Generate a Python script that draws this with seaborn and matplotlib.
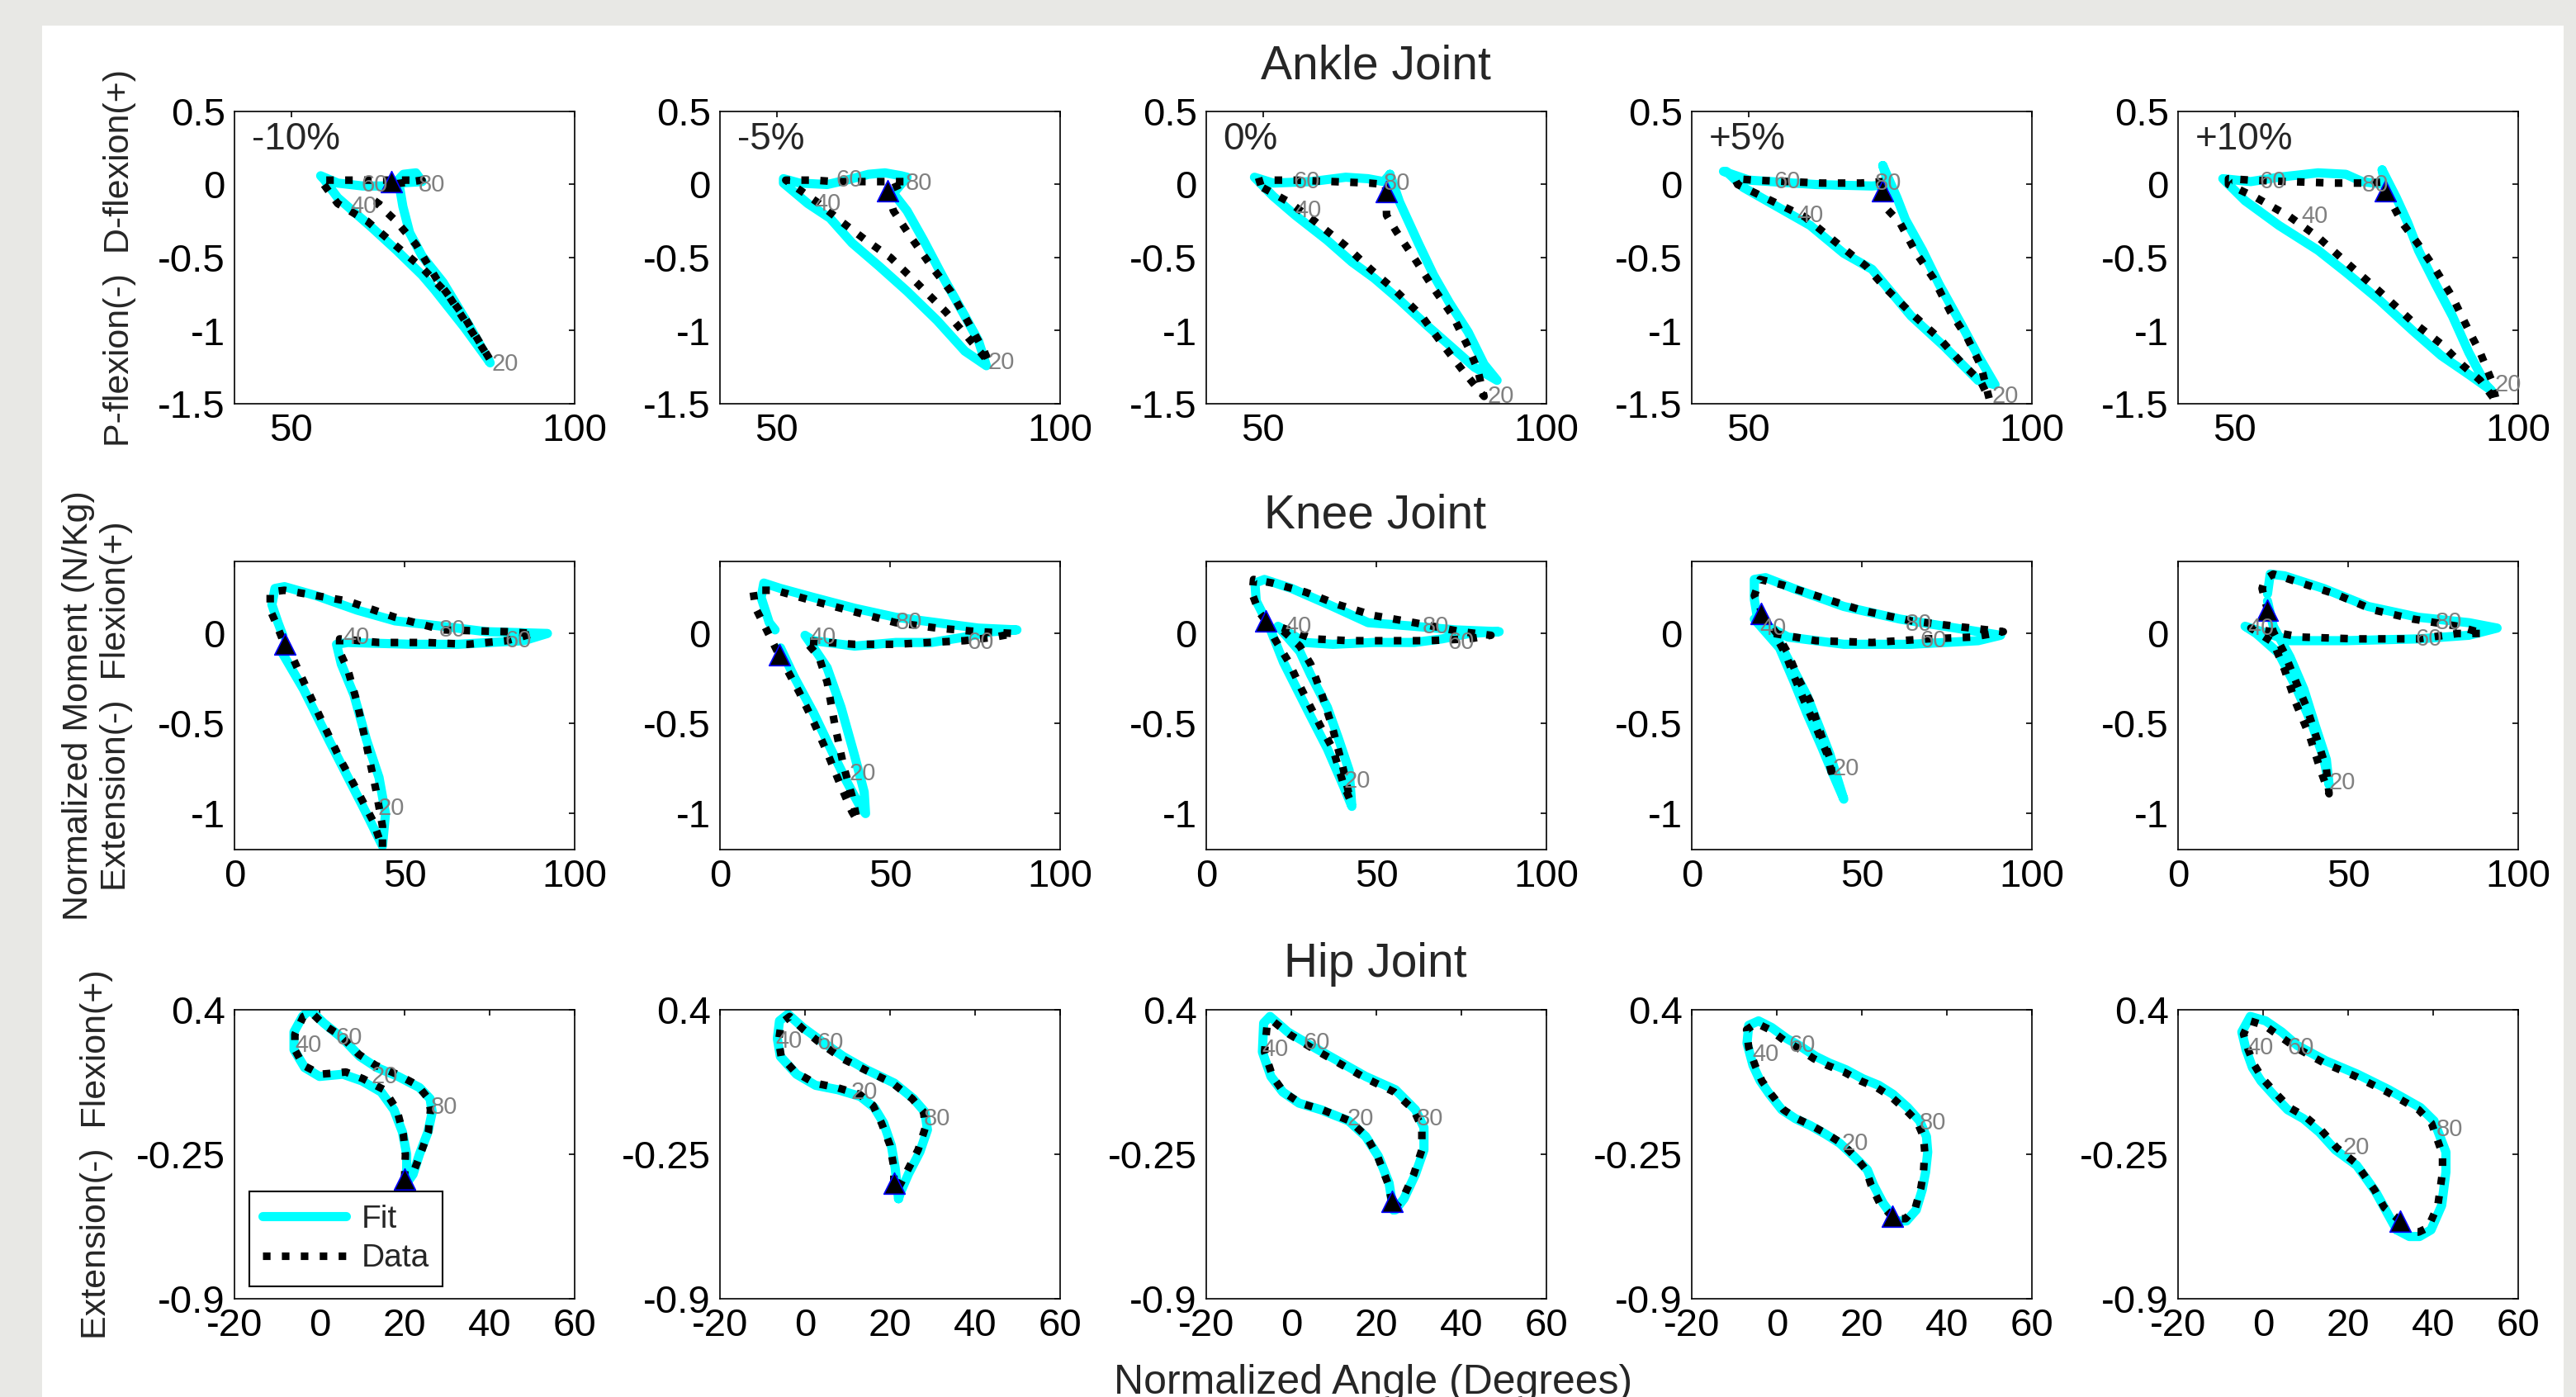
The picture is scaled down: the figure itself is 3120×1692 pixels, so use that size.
import matplotlib
matplotlib.use("Agg")
import matplotlib.pyplot as plt
from matplotlib.patches import Rectangle
import seaborn as sns

# conditions shown in the five columns
conditions = ['-10%', '-5%', '0%', '+5%', '+10%']

# ---------------- Ankle joint (x = angle, y = moment) ----------------
ankle_data_x = [
    [67.6, 65.2, 68.5, 72.0, 75.7, 80.6, 85.1, 77.6, 73.1, 68.2, 63.4, 58.2, 55.2, 58.5, 61.9, 65.6, 69.0, 71.2, 73.1, 67.6],
    [69.5, 70.6, 73.5, 77.3, 80.7, 83.6, 86.6, 87.5, 83.6, 79.8, 74.9, 70.1, 65.7, 61.3, 57.5, 51.6, 56.5, 60.4, 64.3, 68.6, 73.0, 69.5],
    [71.7, 71.8, 73.5, 76.8, 80.1, 83.5, 86.3, 87.9, 89.0, 87.3, 85.2, 81.8, 78.0, 73.5, 69.0, 64.6, 59.1, 54.6, 48.5, 50.2, 55.7, 62.4, 68.8, 71.6, 71.7],
    [73.7, 74.5, 76.7, 79.6, 82.6, 85.6, 88.6, 91.0, 92.5, 91.0, 87.6, 83.6, 78.7, 74.2, 70.8, 65.9, 59.9, 54.0, 48.1, 47.6, 51.0, 57.0, 62.9, 69.8, 73.7],
    [76.5, 78.0, 79.5, 82.4, 85.4, 88.4, 91.3, 93.3, 95.3, 96.2, 93.3, 90.3, 86.4, 81.4, 75.5, 69.6, 64.7, 59.7, 53.8, 48.9, 48.9, 52.8, 59.7, 67.6, 73.5, 77.0],
]
ankle_data_y = [
    [0.00, -0.13, -0.25, -0.41, -0.65, -0.91, -1.20, -0.75, -0.57, -0.41, -0.25, -0.13, 0.03, 0.03, 0.03, 0.03, 0.03, 0.03, 0.03, 0.00],
    [-0.04, -0.18, -0.35, -0.56, -0.73, -0.93, -1.14, -1.22, -1.04, -0.87, -0.68, -0.50, -0.38, -0.25, -0.13, 0.03, 0.03, 0.02, 0.02, 0.02, 0.02, -0.04],
    [-0.05, -0.21, -0.32, -0.51, -0.71, -0.90, -1.12, -1.27, -1.45, -1.37, -1.27, -1.10, -0.90, -0.73, -0.58, -0.42, -0.25, -0.12, 0.01, 0.03, 0.03, 0.02, 0.01, 0.00, -0.05],
    [-0.05, -0.17, -0.26, -0.47, -0.64, -0.87, -1.05, -1.24, -1.47, -1.35, -1.22, -1.05, -0.88, -0.71, -0.56, -0.41, -0.22, -0.11, 0.00, 0.04, 0.03, 0.02, 0.01, 0.01, 0.02],
    [-0.05, -0.15, -0.26, -0.41, -0.58, -0.77, -1.00, -1.15, -1.34, -1.49, -1.34, -1.24, -1.09, -0.94, -0.73, -0.53, -0.36, -0.22, -0.09, 0.00, 0.04, 0.03, 0.02, 0.01, 0.01, 0.02],
]
ankle_fit_x = [
    [69.0, 69.7, 70.9, 73.1, 76.8, 81.3, 85.1, 80.6, 75.3, 73.1, 68.6, 64.1, 58.2, 55.9, 55.2, 58.2, 62.6, 67.9, 69.8, 72.0, 73.1, 69.0],
    [70.6, 73.0, 75.9, 79.3, 83.2, 85.6, 87.0, 83.2, 78.3, 73.0, 68.1, 63.3, 59.4, 55.5, 51.2, 51.2, 54.0, 58.9, 62.3, 66.2, 69.1, 72.0, 73.0, 70.6],
    [72.4, 74.1, 77.4, 80.1, 82.9, 86.2, 89.0, 91.3, 87.3, 83.5, 79.1, 74.1, 69.6, 65.7, 61.3, 55.7, 51.8, 48.5, 51.8, 58.5, 64.6, 68.5, 71.3, 72.4],
    [73.7, 76.2, 77.7, 80.7, 83.6, 87.6, 90.5, 93.5, 90.5, 84.6, 78.7, 71.8, 66.8, 60.9, 55.0, 49.1, 46.1, 45.6, 50.1, 61.9, 71.8, 74.7, 73.7],
    [76.0, 78.5, 80.5, 82.4, 85.4, 88.4, 91.3, 94.3, 95.3, 91.3, 86.4, 81.4, 75.5, 69.6, 64.7, 57.8, 51.8, 47.9, 52.8, 57.8, 64.7, 69.6, 72.5, 76.5, 76.0],
]
ankle_fit_y = [
    [0.01, -0.15, -0.33, -0.49, -0.67, -0.96, -1.22, -0.98, -0.72, -0.62, -0.45, -0.29, -0.09, 0.03, 0.06, 0.01, -0.01, -0.01, 0.07, 0.08, 0.02, 0.01],
    [-0.06, -0.18, -0.38, -0.63, -0.90, -1.07, -1.24, -1.14, -0.93, -0.73, -0.56, -0.40, -0.23, -0.13, 0.01, 0.04, 0.01, 0.00, 0.03, 0.07, 0.08, 0.06, 0.05, -0.06],
    [0.07, -0.12, -0.40, -0.62, -0.81, -1.01, -1.23, -1.34, -1.25, -1.12, -0.97, -0.79, -0.64, -0.53, -0.38, -0.21, -0.08, 0.05, 0.01, 0.02, 0.05, 0.04, 0.02, 0.07],
    [0.13, -0.09, -0.24, -0.45, -0.68, -0.96, -1.17, -1.37, -1.34, -1.11, -0.90, -0.58, -0.47, -0.28, -0.15, -0.02, 0.09, 0.09, 0.03, 0.00, -0.01, 0.00, 0.13],
    [0.10, -0.09, -0.26, -0.45, -0.68, -0.90, -1.15, -1.37, -1.41, -1.30, -1.17, -1.00, -0.79, -0.60, -0.45, -0.28, -0.11, 0.04, 0.02, 0.05, 0.08, 0.07, 0.02, 0.00, 0.10],
]
ankle_tri_x = [67.6, 69.5, 71.7, 73.7, 76.5]
ankle_tri_y = [0.02, -0.04, -0.05, -0.04, -0.04]
# labels 20, 40, 60, 80 (% of cycle)
ankle_lab_x = [[85.4, 60.4, 62.3, 72.4], [87.3, 56.7, 60.4, 72.7], [89.6, 55.7, 55.4, 71.3],
               [93.0, 58.5, 54.5, 72.3], [95.8, 61.7, 54.3, 72.4]]
ankle_lab_y = [[-1.23, -0.15, 0.00, 0.00], [-1.22, -0.13, 0.03, 0.01], [-1.45, -0.18, 0.02, 0.01],
               [-1.45, -0.21, 0.02, 0.01], [-1.37, -0.22, 0.02, 0.00]]

# ---------------- Knee joint ----------------
knee_data_x = [
    [14.7, 17.5, 22.1, 26.8, 31.4, 36.0, 40.7, 43.5, 43.5, 41.6, 38.8, 36.0, 33.3, 30.9, 30.9, 42.5, 56.5, 68.6, 80.0, 88.0, 80.0, 61.1, 47.2, 33.3, 24.0, 14.7, 10.5, 10.5, 11.9, 14.7],
    [17.4, 19.4, 23.4, 27.5, 31.5, 35.6, 38.8, 40.4, 38.8, 36.4, 33.9, 31.5, 29.1, 25.0, 31.5, 39.6, 51.7, 61.4, 71.9, 80.8, 86.5, 75.9, 63.8, 51.7, 39.6, 27.5, 16.2, 9.7, 10.5, 12.9, 17.4],
    [17.5, 20.1, 24.3, 27.5, 30.7, 34.0, 37.2, 40.4, 42.4, 40.0, 37.2, 34.0, 30.7, 27.5, 21.1, 31.5, 42.0, 53.2, 65.3, 77.3, 83.7, 74.9, 61.2, 49.2, 38.8, 29.1, 19.5, 13.9, 13.5, 15.5, 17.5],
    [20.4, 25.0, 28.3, 31.6, 34.9, 38.2, 40.6, 41.5, 39.8, 36.5, 33.2, 29.9, 27.5, 24.2, 36.5, 53.0, 69.4, 82.6, 91.6, 77.6, 64.5, 49.7, 38.2, 26.6, 20.1, 18.4, 20.1, 20.4],
    [26.3, 28.0, 31.3, 34.5, 37.8, 41.1, 43.6, 44.4, 41.9, 38.7, 34.5, 31.3, 28.0, 21.4, 36.2, 52.6, 70.7, 82.3, 89.7, 82.3, 69.1, 57.6, 46.1, 34.5, 28.0, 25.5, 24.7, 26.3],
]
knee_data_y = [
    [-0.06, -0.15, -0.34, -0.53, -0.71, -0.87, -1.04, -1.19, -1.07, -0.87, -0.62, -0.38, -0.20, -0.10, -0.03, -0.05, -0.05, -0.06, -0.04, 0.00, 0.01, 0.02, 0.09, 0.18, 0.21, 0.24, 0.23, 0.13, 0.07, -0.06],
    [-0.12, -0.19, -0.33, -0.49, -0.66, -0.85, -0.99, -1.04, -0.90, -0.74, -0.52, -0.27, -0.13, -0.04, -0.05, -0.06, -0.06, -0.05, -0.04, -0.02, 0.00, 0.01, 0.03, 0.06, 0.12, 0.18, 0.24, 0.24, 0.14, 0.05, -0.12],
    [0.07, -0.03, -0.16, -0.29, -0.41, -0.53, -0.64, -0.84, -0.93, -0.73, -0.53, -0.34, -0.17, -0.07, 0.04, -0.03, -0.04, -0.04, -0.04, -0.03, -0.01, 0.01, 0.06, 0.10, 0.16, 0.23, 0.28, 0.30, 0.22, 0.12, 0.07],
    [0.11, 0.00, -0.11, -0.26, -0.38, -0.57, -0.69, -0.81, -0.67, -0.52, -0.38, -0.23, -0.11, 0.00, -0.04, -0.05, -0.03, -0.02, 0.01, 0.04, 0.07, 0.13, 0.20, 0.27, 0.30, 0.21, 0.15, 0.11],
    [0.13, 0.01, -0.11, -0.26, -0.41, -0.60, -0.75, -0.89, -0.76, -0.57, -0.38, -0.20, -0.05, 0.03, -0.02, -0.03, -0.03, 0.00, 0.00, 0.04, 0.08, 0.13, 0.22, 0.29, 0.33, 0.30, 0.25, 0.13],
]
knee_fit_x = [
    [13.8, 20.3, 27.7, 34.2, 38.8, 43.5, 44.4, 42.5, 38.8, 35.1, 31.4, 30.0, 33.3, 51.8, 65.8, 75.0, 85.0, 92.0, 74.0, 61.1, 47.2, 36.0, 24.0, 14.7, 11.9, 11.0, 12.8, 14.2],
    [17.8, 21.8, 27.5, 32.3, 37.2, 41.2, 42.8, 42.4, 39.6, 35.6, 31.5, 28.3, 25.0, 27.5, 39.6, 51.7, 62.2, 71.9, 80.0, 87.3, 75.9, 63.8, 51.7, 39.6, 27.5, 17.8, 12.9, 12.1, 14.5, 16.2],
    [18.7, 22.7, 26.7, 30.7, 35.6, 40.4, 42.8, 42.0, 38.8, 35.6, 30.7, 27.5, 21.1, 29.1, 37.2, 49.2, 61.2, 69.3, 77.3, 86.1, 73.3, 61.2, 47.6, 37.2, 25.1, 17.1, 14.3, 14.7, 17.1],
    [20.1, 25.8, 29.9, 34.0, 37.3, 40.6, 44.7, 41.5, 38.2, 34.0, 29.9, 25.8, 18.4, 28.3, 44.7, 64.5, 84.2, 90.8, 77.6, 61.2, 44.7, 29.9, 21.7, 18.4, 18.4, 19.2],
    [26.3, 28.0, 32.9, 37.0, 40.3, 43.6, 44.4, 42.8, 39.5, 34.5, 29.6, 23.0, 19.7, 32.9, 49.4, 70.7, 85.5, 93.8, 85.5, 70.7, 55.9, 42.8, 31.3, 27.1, 26.3],
]
knee_fit_y = [
    [-0.10, -0.31, -0.59, -0.83, -1.00, -1.18, -1.00, -0.80, -0.59, -0.34, -0.17, -0.06, -0.05, -0.06, -0.06, -0.05, -0.04, 0.00, 0.01, 0.04, 0.07, 0.13, 0.21, 0.26, 0.25, 0.16, 0.06, -0.01],
    [-0.08, -0.24, -0.44, -0.63, -0.82, -0.96, -1.00, -0.88, -0.68, -0.41, -0.19, -0.10, -0.01, -0.04, -0.07, -0.05, -0.05, -0.02, 0.01, 0.02, 0.03, 0.06, 0.09, 0.14, 0.20, 0.25, 0.28, 0.20, 0.06, 0.02],
    [0.03, -0.16, -0.31, -0.46, -0.64, -0.85, -0.96, -0.76, -0.58, -0.41, -0.23, -0.10, 0.04, -0.05, -0.06, -0.05, -0.05, -0.03, 0.00, 0.01, 0.02, 0.04, 0.06, 0.15, 0.25, 0.30, 0.28, 0.18, 0.09],
    [0.09, -0.05, -0.20, -0.35, -0.51, -0.67, -0.92, -0.78, -0.63, -0.45, -0.26, -0.08, 0.08, -0.02, -0.06, -0.06, -0.04, -0.01, 0.03, 0.08, 0.15, 0.25, 0.31, 0.30, 0.19, 0.10],
    [0.18, 0.04, -0.13, -0.31, -0.51, -0.70, -0.84, -0.69, -0.51, -0.29, -0.11, 0.00, 0.04, -0.04, -0.04, -0.03, -0.01, 0.03, 0.06, 0.09, 0.15, 0.25, 0.32, 0.33, 0.22],
]
knee_tri_x = [14.7, 17.4, 17.5, 20.4, 26.3]
knee_tri_y = [-0.06, -0.12, 0.07, 0.11, 0.13]
knee_lab_x = [[42.1, 31.9, 79.4, 60.2], [38.0, 26.3, 72.7, 51.7], [40.4, 23.1, 70.9, 63.6],
              [41.5, 20.1, 67.0, 62.8], [44.4, 20.6, 69.9, 75.7]]
knee_lab_y = [[-0.97, -0.02, -0.04, 0.02], [-0.78, -0.02, -0.05, 0.06], [-0.82, 0.04, -0.05, 0.04],
              [-0.75, 0.03, -0.04, 0.05], [-0.83, 0.03, -0.03, 0.06]]

# ---------------- Hip joint ----------------
hip_data_x = [
    [20.0, 20.2, 19.7, 18.2, 15.2, 10.2, 6.2, 0.2, -3.8, -5.8, -5.8, -3.8, -1.8, 1.2, 5.2, 9.2, 13.2, 18.2, 23.1, 25.6, 26.1, 25.6, 24.1, 22.1, 20.0],
    [20.9, 20.9, 20.0, 18.0, 16.0, 12.8, 7.5, 2.3, -2.3, -5.6, -6.2, -5.6, -3.6, -0.3, 3.6, 8.8, 14.1, 20.6, 25.2, 27.9, 28.3, 26.6, 23.9, 22.0, 20.9],
    [23.6, 22.7, 20.3, 17.7, 13.8, 7.3, 2.1, -1.8, -4.4, -6.3, -5.7, -4.4, -0.5, 4.7, 11.2, 17.7, 24.2, 28.8, 30.7, 30.7, 28.8, 26.2, 24.2, 23.6],
    [27.1, 24.2, 22.2, 21.0, 18.4, 15.2, 11.9, 8.1, 4.8, 1.6, -1.3, -3.5, -5.1, -6.6, -7.1, -4.8, -1.6, 1.9, 4.8, 8.7, 11.9, 15.8, 19.7, 23.5, 26.8, 30.3, 32.9, 34.5, 34.8, 34.5, 33.9, 32.6, 30.3, 28.0],
    [32.3, 28.5, 26.2, 24.0, 21.8, 17.3, 13.6, 9.9, 6.2, 3.2, -0.1, -2.0, -3.5, -4.6, -3.1, 0.3, 4.0, 7.7, 14.4, 21.8, 29.2, 36.6, 39.6, 42.2, 42.2, 41.1, 38.8, 36.6, 34.4],
]
hip_data_y = [
    [-0.36, -0.25, -0.16, -0.05, 0.04, 0.09, 0.12, 0.11, 0.15, 0.22, 0.29, 0.37, 0.385, 0.33, 0.28, 0.20, 0.15, 0.11, 0.06, 0.00, -0.05, -0.15, -0.23, -0.33, -0.36],
    [-0.38, -0.31, -0.21, -0.11, -0.03, 0.02, 0.05, 0.07, 0.12, 0.19, 0.26, 0.34, 0.37, 0.31, 0.25, 0.18, 0.13, 0.07, 0.00, -0.06, -0.13, -0.23, -0.33, -0.40, -0.38],
    [-0.46, -0.38, -0.26, -0.17, -0.10, -0.05, -0.02, 0.03, 0.10, 0.21, 0.33, 0.35, 0.29, 0.23, 0.16, 0.09, 0.03, -0.05, -0.13, -0.23, -0.34, -0.45, -0.49, -0.46],
    [-0.53, -0.47, -0.39, -0.32, -0.26, -0.20, -0.16, -0.12, -0.09, -0.05, 0.02, 0.08, 0.15, 0.23, 0.31, 0.34, 0.31, 0.26, 0.23, 0.18, 0.15, 0.12, 0.08, 0.05, 0.01, -0.05, -0.10, -0.17, -0.24, -0.33, -0.40, -0.49, -0.54, -0.54],
    [-0.55, -0.49, -0.41, -0.35, -0.29, -0.22, -0.14, -0.08, -0.04, 0.02, 0.09, 0.15, 0.22, 0.29, 0.35, 0.33, 0.28, 0.23, 0.16, 0.10, 0.03, -0.05, -0.11, -0.25, -0.33, -0.48, -0.58, -0.60, -0.60],
]
hip_fit_x = [
    [20.5, 20.5, 19.5, 17.5, 14.5, 10.0, 5.5, 0.0, -3.5, -6.0, -6.0, -4.0, -2.3, 1.0, 5.5, 9.5, 13.5, 18.5, 23.5, 26.0, 26.5, 25.5, 23.5, 22.0, 20.5],
    [22.0, 21.2, 20.3, 18.5, 16.3, 13.0, 7.8, 2.5, -2.0, -5.8, -6.5, -6.0, -4.0, -0.5, 3.8, 9.0, 14.5, 21.0, 25.5, 28.2, 28.8, 27.0, 24.3, 22.5, 22.0],
    [24.0, 23.0, 20.5, 17.5, 13.5, 7.0, 1.8, -2.0, -4.8, -6.8, -6.5, -5.0, -0.8, 4.5, 11.0, 17.5, 24.5, 29.2, 31.2, 31.2, 29.2, 26.5, 24.5, 24.0],
    [28.0, 25.0, 22.8, 21.3, 18.2, 14.8, 11.5, 7.8, 4.4, 1.2, -1.7, -3.9, -5.6, -7.0, -6.6, -4.3, -1.2, 2.4, 5.2, 9.2, 12.4, 16.3, 20.2, 24.0, 27.3, 30.8, 33.6, 35.2, 35.5, 35.0, 34.2, 32.8, 30.5, 28.0],
    [31.4, 28.8, 26.5, 24.3, 22.0, 17.0, 13.2, 9.5, 5.8, 2.8, -0.5, -2.5, -4.0, -5.0, -3.0, 0.6, 4.4, 8.0, 14.8, 22.2, 29.6, 37.0, 40.2, 43.0, 43.0, 42.0, 39.5, 36.8, 34.4, 31.4],
]
hip_fit_y = [
    [-0.38, -0.25, -0.15, -0.05, 0.03, 0.08, 0.11, 0.10, 0.14, 0.22, 0.30, 0.37, 0.40, 0.34, 0.27, 0.19, 0.14, 0.10, 0.05, 0.00, -0.06, -0.15, -0.25, -0.34, -0.38],
    [-0.45, -0.31, -0.21, -0.11, -0.04, 0.01, 0.04, 0.06, 0.11, 0.19, 0.27, 0.35, 0.38, 0.32, 0.26, 0.19, 0.13, 0.07, 0.00, -0.06, -0.14, -0.24, -0.34, -0.42, -0.45],
    [-0.50, -0.38, -0.26, -0.17, -0.10, -0.05, -0.02, 0.03, 0.10, 0.21, 0.34, 0.37, 0.30, 0.24, 0.17, 0.10, 0.04, -0.05, -0.13, -0.23, -0.34, -0.45, -0.50, -0.50],
    [-0.55, -0.47, -0.39, -0.32, -0.26, -0.20, -0.16, -0.12, -0.09, -0.05, 0.02, 0.08, 0.15, 0.25, 0.33, 0.35, 0.32, 0.27, 0.24, 0.19, 0.16, 0.13, 0.09, 0.06, 0.02, -0.04, -0.10, -0.17, -0.24, -0.33, -0.41, -0.50, -0.55, -0.55],
    [-0.59, -0.50, -0.42, -0.36, -0.30, -0.23, -0.15, -0.09, -0.05, 0.01, 0.08, 0.14, 0.22, 0.30, 0.37, 0.35, 0.30, 0.24, 0.17, 0.11, 0.04, -0.04, -0.10, -0.24, -0.33, -0.48, -0.59, -0.62, -0.62, -0.59],
]
hip_tri_x = [20.0, 20.9, 23.6, 27.1, 32.3]
hip_tri_y = [-0.36, -0.38, -0.46, -0.53, -0.55]
hip_lab_x = [[12.2, -5.8, 3.7, 26.1], [10.8, -6.9, 2.9, 27.9], [13.2, -7.0, 2.8, 29.5],
             [15.2, -5.8, 2.9, 33.6], [18.8, -3.8, 5.8, 40.7]]
hip_lab_y = [[0.10, 0.24, 0.275, -0.04], [0.03, 0.26, 0.25, -0.09], [-0.09, 0.22, 0.25, -0.09],
             [-0.20, 0.20, 0.24, -0.11], [-0.22, 0.23, 0.23, -0.14]]

cycle_marks = ['20', '40', '60', '80']

# axis setup per joint
ankle_xticks = [50, 100]
ankle_yticks = [-1.5, -1, -0.5, 0, 0.5]
ankle_yticklabels = ['-1.5', '-1', '-0.5', '0', '0.5']
knee_xticks = [0, 50, 100]
knee_yticks = [-1, -0.5, 0]
knee_yticklabels = ['-1', '-0.5', '0']
hip_xticks = [-20, 0, 20, 40, 60]
hip_yticks = [-0.9, -0.25, 0.4]
hip_yticklabels = ['-0.9', '-0.25', '0.4']

sns.set_style("white")
plt.rcParams['font.family'] = ['Liberation Sans', 'DejaVu Sans']

W, H = 3120, 1692
fig = plt.figure(figsize=(W / 100, H / 100), dpi=100, facecolor='#e8e8e5')
fig.add_artist(Rectangle((51 / W, 0), (3105 - 51) / W, 1 - 31 / H, transform=fig.transFigure,
                         facecolor='white', edgecolor='none', zorder=-10))

col_left = [284, 872, 1461, 2049, 2638]
col_w = 412
row_box = [(135, 489), (680, 1029), (1223, 1573)]

joints = [
    (ankle_data_x, ankle_data_y, ankle_fit_x, ankle_fit_y, ankle_tri_x, ankle_tri_y, ankle_lab_x, ankle_lab_y,
     (40, 100), (-1.5, 0.5), ankle_xticks, ankle_yticks, ankle_yticklabels),
    (knee_data_x, knee_data_y, knee_fit_x, knee_fit_y, knee_tri_x, knee_tri_y, knee_lab_x, knee_lab_y,
     (0, 100), (-1.2, 0.4), knee_xticks, knee_yticks, knee_yticklabels),
    (hip_data_x, hip_data_y, hip_fit_x, hip_fit_y, hip_tri_x, hip_tri_y, hip_lab_x, hip_lab_y,
     (-20, 60), (-0.9, 0.4), hip_xticks, hip_yticks, hip_yticklabels),
]

dotted = (0, (1, 1.5))
legend_ax = None

for r, (dx, dy, fx, fy, tx, ty, lx, ly, xlim, ylim, xt, yt, ytl) in enumerate(joints):
    top, bot = row_box[r]
    for c in range(5):
        ax = fig.add_axes([col_left[c] / W, 1 - bot / H, col_w / W, (bot - top) / H])
        sns.lineplot(x=fx[c], y=fy[c], ax=ax, sort=False, estimator=None, color='#00ffff',
                     linewidth=8, zorder=2, legend=False)
        sns.lineplot(x=dx[c], y=dy[c], ax=ax, sort=False, estimator=None, color='black',
                     linewidth=6.6, linestyle=dotted, dash_capstyle='butt', zorder=3, legend=False)
        sns.scatterplot(x=[tx[c]], y=[ty[c]], ax=ax, marker='^', s=340, color='black',
                        edgecolor='blue', linewidth=1.2, zorder=5, legend=False)
        for k, mark in enumerate(cycle_marks):
            ax.text(lx[c][k], ly[c][k], mark, color='#808080', fontsize=21,
                    ha='left', va='center', zorder=6)
        ax.set_xlim(*xlim)
        ax.set_ylim(*ylim)
        ax.set_xticks(xt)
        ax.set_xticklabels([str(v) for v in xt])
        ax.set_yticks(yt)
        ax.set_yticklabels(ytl)
        ax.set_xlabel('')
        ax.set_ylabel('')
        ax.tick_params(direction='in', top=True, right=True, length=5, width=1.2,
                       labelsize=34, pad=8, colors='black')
        for sp in ax.spines.values():
            sp.set_visible(True)
            sp.set_color('black')
            sp.set_linewidth(1.2)
        if r == 0:
            ax.text(0.05, 0.965, conditions[c], transform=ax.transAxes, ha='left', va='top', fontsize=33)
        if r == 2 and c == 0:
            legend_ax = ax

leg = legend_ax.legend(handles=[legend_ax.lines[0], legend_ax.lines[1]], labels=['Fit', 'Data'],
                       loc='lower left', bbox_to_anchor=(0.044, 0.043), borderaxespad=0,
                       fontsize=28, frameon=True, fancybox=False, edgecolor='black', framealpha=1,
                       handlelength=2.6, borderpad=0.4, labelspacing=0.3, handletextpad=0.5)
leg.get_frame().set_linewidth(1.5)
leg.set_zorder(10)

cx = 1666 / W
fig.text(cx, 1 - 95 / H, 'Ankle Joint', ha='center', va='baseline', fontsize=41)
fig.text(cx, 1 - 640 / H, 'Knee Joint', ha='center', va='baseline', fontsize=41)
fig.text(cx, 1 - 1183 / H, 'Hip Joint', ha='center', va='baseline', fontsize=41)
fig.text(0.533, 1 - 1688 / H, 'Normalized Angle (Degrees)', ha='center', va='baseline', fontsize=36)

fig.text(145 / W, 1 - 312 / H, 'P-flexion(-)  D-flexion(+)', rotation=90, ha='center', va='center', fontsize=31)
fig.text(118 / W, 1 - 855 / H, 'Normalized Moment (N/Kg)\nExtension(-)  Flexion(+)', rotation=90,
         ha='center', va='center', multialignment='center', fontsize=31)
fig.text(117 / W, 1 - 1398 / H, 'Extension(-)  Flexion(+)', rotation=90, ha='center', va='center', fontsize=31)

fig.savefig('out.png', dpi=100, facecolor=fig.get_facecolor())
